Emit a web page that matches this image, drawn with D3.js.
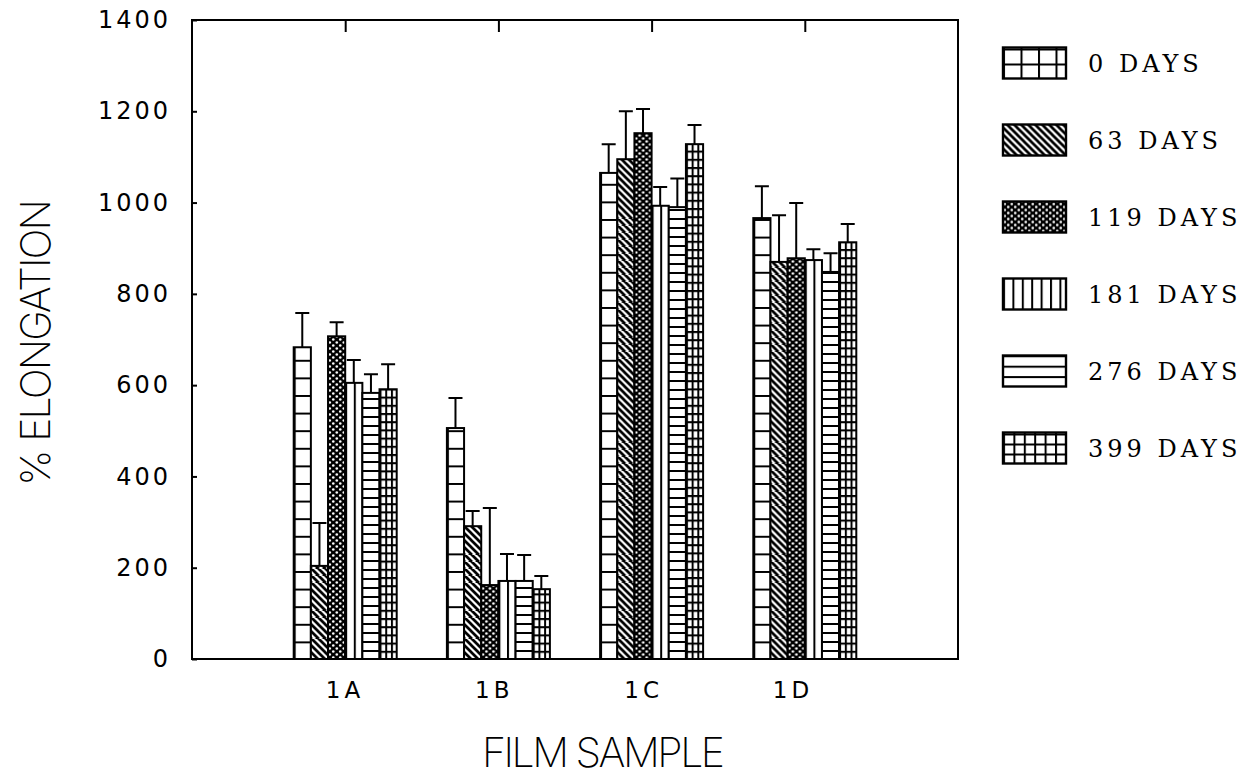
<!DOCTYPE html>
<html>
<head>
<meta charset="utf-8">
<script src="https://cdn.jsdelivr.net/npm/d3@7"></script>
<style>
  html, body { margin: 0; padding: 0; background: #fff; }
  svg { display: block; }
</style>
</head>
<body>
<svg id="chart" width="1247" height="784"></svg>
<script>
// Film samples along the x axis and ageing periods (one bar each)
const samples = ["1A", "1B", "1C", "1D"];
const periods = ["0 DAYS", "63 DAYS", "119 DAYS", "181 DAYS", "276 DAYS", "399 DAYS"];

// Mean % elongation per period, in sample order 1A, 1B, 1C, 1D
const mean0   = [683, 506, 1065, 966];
const mean63  = [204, 291, 1095, 870];
const mean119 = [707, 162, 1152, 878];
const mean181 = [605, 171, 993, 874];
const mean276 = [583, 171, 990, 848];
const mean399 = [591, 153, 1128, 913];

// Upper error bar length per period
const err0   = [75, 66, 63, 70];
const err63  = [94, 33, 105, 102];
const err119 = [31, 169, 53, 121];
const err181 = [50, 59, 41, 24];
const err276 = [41, 57, 63, 41];
const err399 = [55, 29, 42, 40];

const yTicks = [0, 200, 400, 600, 800, 1000, 1200, 1400];

const means = [mean0, mean63, mean119, mean181, mean276, mean399];
const errs  = [err0, err63, err119, err181, err276, err399];

const cells = [];
samples.forEach((s, i) => {
  periods.forEach((p, j) => {
    cells.push({ sample: s, period: p, si: i, pj: j, value: means[j][i], err: errs[j][i] });
  });
});

const svg = d3.select("#chart");
const defs = svg.append("defs");

const plotLeft = 192, plotRight = 958, plotTop = 20, plotBottom = 659;

const y = d3.scaleLinear().domain([0, 1400]).range([plotBottom, plotTop]);
const x0 = d3.scalePoint().domain(samples).range([plotLeft, plotRight]).padding(1);
const x1 = d3.scaleBand().domain(periods).range([-51.5, 51.5]).paddingInner(0);
const labelX = d3.scalePoint().domain(samples).range([345, 793]);

const LW = 2;

// Fill patterns, one style per period. Tiles are anchored at (ox, oy).
const patternStyles = [
  { // open grid of tall cells
    size: (leg) => leg ? [17.5, 15] : [17.5, 17.6],
    draw: (g, w, h) => {
      g.append("rect").attr("width", w).attr("height", h).attr("fill", "#fff");
      g.append("path").attr("d", `M0,0H${w}M0,0V${h}`).attr("stroke", "#000").attr("stroke-width", LW * 2);
    }
  },
  { // back-slash hatching
    size: () => [7, 7],
    draw: (g, w, h) => {
      g.append("rect").attr("width", w).attr("height", h).attr("fill", "#fff");
      g.append("path")
        .attr("d", `M-1,-1L${w + 1},${h + 1}M${-w / 2 - 1},${h / 2 - 1}L${w / 2 + 1},${h * 1.5 + 1}M${w / 2 - 1},${-h / 2 - 1}L${w * 1.5 + 1},${h / 2 + 1}`)
        .attr("stroke", "#000").attr("stroke-width", 2.7);
    }
  },
  { // black with staggered white dots
    size: () => [7, 6],
    draw: (g, w, h) => {
      g.append("rect").attr("width", w).attr("height", h).attr("fill", "#000");
      g.append("circle").attr("cx", 1.75).attr("cy", 1.5).attr("r", 1.3).attr("fill", "#fff");
      g.append("circle").attr("cx", 5.25).attr("cy", 4.5).attr("r", 1.3).attr("fill", "#fff");
    }
  },
  { // vertical lines
    size: (leg) => leg ? [9.4, 20] : [8.6, 20],
    draw: (g, w, h) => {
      g.append("rect").attr("width", w).attr("height", h).attr("fill", "#fff");
      g.append("path").attr("d", `M0,0V${h}`).attr("stroke", "#000").attr("stroke-width", LW * 2);
    }
  },
  { // horizontal lines
    size: (leg) => leg ? [20, 10.4] : [20, 9],
    draw: (g, w, h) => {
      g.append("rect").attr("width", w).attr("height", h).attr("fill", "#fff");
      g.append("path").attr("d", `M0,0H${w}`).attr("stroke", "#000").attr("stroke-width", LW * 2);
    }
  },
  { // fine grid
    size: (leg) => leg ? [10.4, 10] : [5.7, 8.2],
    draw: (g, w, h) => {
      g.append("rect").attr("width", w).attr("height", h).attr("fill", "#fff");
      g.append("path").attr("d", `M0,0H${w}M0,0V${h}`).attr("stroke", "#000").attr("stroke-width", LW * 2);
    }
  }
];

function makePattern(id, styleIndex, ox, oy, legend) {
  const st = patternStyles[styleIndex];
  const [w, h] = st.size(legend);
  const p = defs.append("pattern")
    .attr("id", id)
    .attr("patternUnits", "userSpaceOnUse")
    .attr("x", ox).attr("y", oy)
    .attr("width", w).attr("height", h);
  st.draw(p, w, h);
  return `url(#${id})`;
}

// Bars
const barG = svg.append("g");
cells.forEach((c, k) => {
  const bx = x0(c.sample) + x1(c.period);
  c.x = bx;
  c.fill = makePattern(`bar-${k}`, c.pj, bx, plotBottom, false);
});

barG.selectAll("rect")
  .data(cells)
  .join("rect")
  .attr("x", d => d.x)
  .attr("y", d => y(d.value))
  .attr("width", x1.bandwidth())
  .attr("height", d => y(0) - y(d.value))
  .attr("fill", d => d.fill)
  .attr("stroke", "#000")
  .attr("stroke-width", LW);

// Error bars (upper only)
const errG = svg.append("g").attr("stroke", "#000").attr("stroke-width", LW).attr("fill", "none");
errG.selectAll("path")
  .data(cells)
  .join("path")
  .attr("d", d => {
    const cx = d.x + x1.bandwidth() / 2;
    const y0 = y(d.value), y1 = y(d.value + d.err);
    return `M${cx},${y0}V${y1}M${cx - 7},${y1}H${cx + 7}`;
  });

// Frame
svg.append("rect")
  .attr("x", plotLeft).attr("y", plotTop)
  .attr("width", plotRight - plotLeft).attr("height", plotBottom - plotTop)
  .attr("fill", "none").attr("stroke", "#000").attr("stroke-width", LW);

// Y axis: inward ticks, labels set off to the left
const yAxis = d3.axisLeft(y).tickValues(yTicks).tickFormat(d3.format("d"))
  .tickSizeInner(-5).tickSizeOuter(0).tickPadding(21);
const yg = svg.append("g").attr("transform", `translate(${plotLeft},0)`).call(yAxis);
yg.select(".domain").remove();
yg.selectAll(".tick line").attr("stroke", "#000").attr("stroke-width", LW);
yg.selectAll(".tick text")
  .attr("font-family", "DejaVu Sans, sans-serif")
  .attr("font-size", 24)
  .attr("letter-spacing", 3)
  .attr("fill", "#000");

// Top axis: category ticks pointing down into the plot
const topAxis = d3.axisTop(x0).tickSizeInner(-12).tickSizeOuter(0).tickFormat("");
const tg = svg.append("g").attr("transform", `translate(0,${plotTop})`).call(topAxis);
tg.select(".domain").remove();
tg.selectAll(".tick line").attr("stroke", "#000").attr("stroke-width", LW);

// Category labels
svg.append("g").selectAll("text")
  .data(samples)
  .join("text")
  .attr("x", d => labelX(d))
  .attr("y", 698)
  .attr("text-anchor", "middle")
  .attr("font-family", "DejaVu Sans, sans-serif")
  .attr("font-size", 23)
  .attr("letter-spacing", 4)
  .text(d => d);

// Axis titles
svg.append("text")
  .attr("x", 482).attr("y", 767)
  .attr("font-family", "Inter, DejaVu Sans, sans-serif")
  .attr("font-weight", 200)
  .attr("font-size", 41)
  .attr("textLength", 243)
  .attr("lengthAdjust", "spacing")
  .text("FILM SAMPLE");

svg.append("text")
  .attr("transform", "translate(50,486) rotate(-90)")
  .attr("x", 0).attr("y", 0)
  .attr("font-family", "Inter, DejaVu Sans, sans-serif")
  .attr("font-weight", 200)
  .attr("font-size", 41)
  .attr("textLength", 287)
  .attr("lengthAdjust", "spacing")
  .text("% ELONGATION");

// Legend
const legendY = d3.scalePoint().domain(periods).range([63, 448]);
const lg = svg.append("g");
periods.forEach((p, j) => {
  const cy = legendY(p);
  const sx = 1003, sy = cy - 15.5;
  const fill = makePattern(`leg-${j}`, j, sx, sy + 31, true);
  lg.append("rect")
    .attr("x", sx).attr("y", sy)
    .attr("width", 63).attr("height", 31)
    .attr("fill", fill)
    .attr("stroke", "#000").attr("stroke-width", LW * 1.2);
  lg.append("text")
    .attr("x", 1088).attr("y", cy + 9)
    .attr("font-family", "DejaVu Serif, serif")
    .attr("font-size", 24)
    .attr("letter-spacing", 4)
    .text(p);
});
</script>
</body>
</html>
